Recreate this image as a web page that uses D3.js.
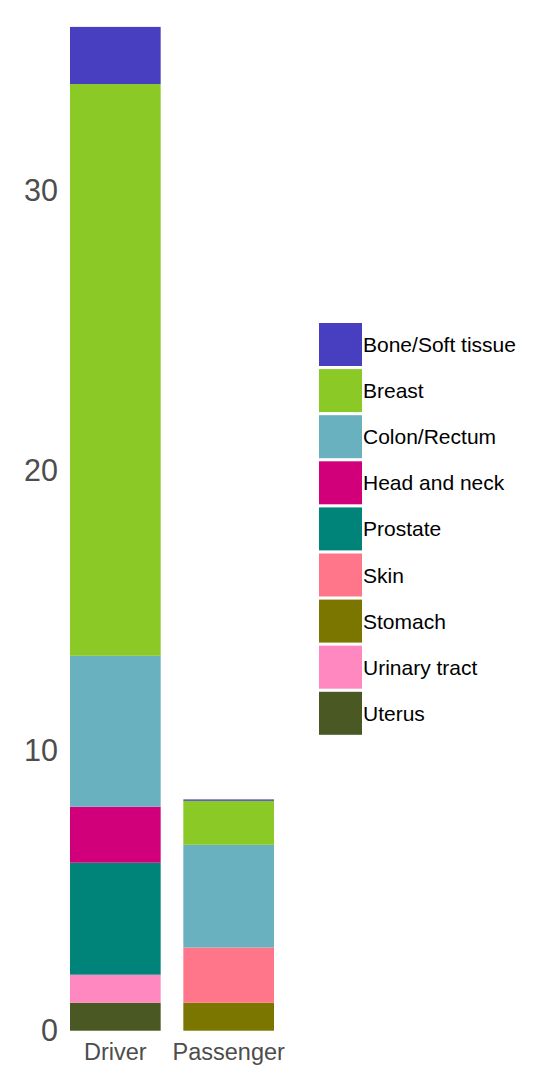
<!DOCTYPE html>
<html>
<head>
<meta charset="utf-8">
<script src="https://cdn.jsdelivr.net/npm/d3@7"></script>
<style>
  body { margin: 0; background: #fff; }
  text { font-family: "Liberation Sans", Arial, sans-serif; }
</style>
</head>
<body>
<div id="chart"></div>
<script>
// Data
const groups = ["Driver", "Passenger"];
const sites = ["Bone/Soft tissue", "Breast", "Colon/Rectum", "Head and neck", "Prostate",
  "Skin", "Stomach", "Urinary tract", "Uterus"];
const siteColors = ["#473ec0", "#8ac926", "#6ab1c0", "#d1007a", "#00847a",
  "#ff768b", "#7b7600", "#ff88c1", "#4a5823"];
// values per site, same order as sites
const driverValues = [2.04, 20.42, 5.39, 2, 4, 0, 0, 1, 1];
const passengerValues = [0.05, 1.57, 3.67, 0, 0, 1.97, 1, 0, 0];
const yTicks = [0, 10, 20, 30];

const W = 534, H = 1077;
const svg = d3.select("#chart").append("svg")
  .attr("width", W)
  .attr("height", H);

const color = d3.scaleOrdinal().domain(sites).range(siteColors);

const x = d3.scaleBand()
  .domain(groups)
  .range([70, 274])
  .paddingInner(0.2)
  .paddingOuter(0);

const y = d3.scaleLinear()
  .domain([0, 36])
  .range([1030.7, 1030.7 - 36 * 28]);

// build rows for stacking, stacked from bottom in reverse legend order
const rows = groups.map((g, gi) => {
  const r = { group: g };
  sites.forEach((s, si) => { r[s] = gi === 0 ? driverValues[si] : passengerValues[si]; });
  return r;
});

const stack = d3.stack().keys(sites.slice().reverse());
const series = stack(rows);

svg.append("g")
  .selectAll("g")
  .data(series)
  .join("g")
  .attr("fill", d => color(d.key))
  .selectAll("rect")
  .data(d => d)
  .join("rect")
  .attr("x", d => x(d.data.group))
  .attr("width", x.bandwidth())
  .attr("y", d => y(d[1]))
  .attr("height", d => y(d[0]) - y(d[1]));

// Y axis (labels only)
const yAxis = svg.append("g")
  .attr("transform", "translate(58,0)")
  .call(d3.axisLeft(y).tickValues(yTicks).tickSize(0).tickPadding(0));
yAxis.select(".domain").remove();
yAxis.selectAll("text")
  .attr("fill", "#4d4d4d")
  .style("font-size", "30.5px")
  .style("font-family", "Liberation Sans, Arial, sans-serif");

// X axis (labels only)
const xAxis = svg.append("g")
  .attr("transform", "translate(0,1036)")
  .call(d3.axisBottom(x).tickSize(0).tickPadding(7));
xAxis.select(".domain").remove();
xAxis.selectAll("text")
  .attr("fill", "#4d4d4d")
  .style("font-size", "23.5px")
  .style("font-family", "Liberation Sans, Arial, sans-serif");

// Legend
const legend = svg.append("g")
  .attr("transform", "translate(319,323)");

const item = legend.selectAll("g")
  .data(sites)
  .join("g")
  .attr("transform", (d, i) => `translate(0,${i * 46.1})`);

item.append("rect")
  .attr("width", 43)
  .attr("height", 43)
  .attr("fill", d => color(d));

item.append("text")
  .attr("x", 44)
  .attr("y", 21.5)
  .attr("dy", "0.36em")
  .style("font-size", "21px")
  .attr("fill", "#000")
  .text(d => d);
</script>
</body>
</html>
